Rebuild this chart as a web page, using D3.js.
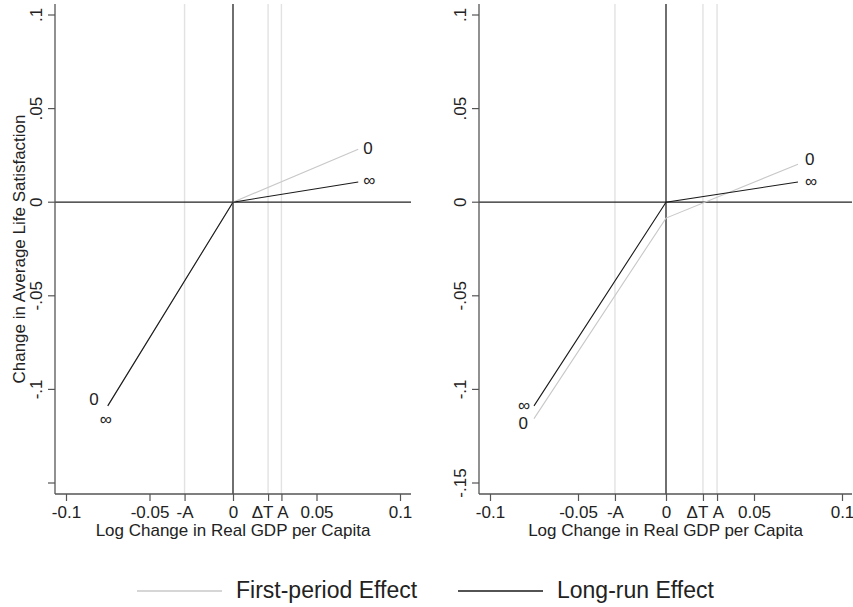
<!DOCTYPE html>
<html>
<head>
<meta charset="utf-8">
<script src="https://cdn.jsdelivr.net/npm/d3@7"></script>
<style>
  body { margin: 0; background: #fff; }
  text { font-family: "Liberation Sans", Arial, sans-serif; fill: #222; }
</style>
</head>
<body>
<script>
// values
const A = 0.029;
const dT = 0.021;
const xPoints = [-0.075, 0, 0.075];
const seriesNames = ["First-period Effect", "Long-run Effect"];
const endLabels = ["0", "\u221e"];

const leftFirst = [-0.1088, 0, 0.0283];
const leftLong = [-0.1088, 0, 0.0108];
const rightFirst = [-0.1156, -0.0085, 0.0203];
const rightLong = [-0.1088, 0, 0.0108];

const xTickVals = [-0.1, -0.05, -A, 0, dT, A, 0.05, 0.1];
const xTickText = ["-0.1", "-0.05", "-A", "0", "\u0394T", "A", "0.05", "0.1"];
const yTickVals = [0.1, 0.05, 0, -0.05, -0.1, -0.15];
const yTickTextLeft = [".1", ".05", "0", "-.05", "-.1", ""];
const yTickTextRight = [".1", ".05", "0", "-.05", "-.1", "-.15"];
const refLines = [-A, dT, A];

const colors = ["#c8c8c8", "#1a1a1a"];
const W = 853, H = 607;
const yTop = 4, yBot = 494;
// small nudges so the crowded labels near dT and A don't collide
const xTickNudge = [0, 0, 0, 0, -6, 1, 0, 0];

const svg = d3.select("body").append("svg")
    .attr("width", W).attr("height", H);

const y = d3.scaleLinear().domain([-0.15, 0.1]).range([483, 15]);

function panel(opt) {
    const x = d3.scaleLinear().domain([-0.1, 0.1]).range(opt.xr);
    const g = svg.append("g");

    // light reference lines at -A, dT, A
    g.selectAll("line.ref").data(refLines).join("line")
        .attr("x1", d => x(d)).attr("x2", d => x(d))
        .attr("y1", yTop).attr("y2", yBot)
        .attr("stroke", "#e2e2e2").attr("stroke-width", 1.4);

    // zero lines
    g.append("line")
        .attr("x1", x(0)).attr("x2", x(0)).attr("y1", yTop).attr("y2", yBot)
        .attr("stroke", "#222").attr("stroke-width", 1.3);
    g.append("line")
        .attr("x1", opt.x0).attr("x2", opt.x1).attr("y1", y(0)).attr("y2", y(0))
        .attr("stroke", "#222").attr("stroke-width", 1.3);

    // x axis
    const xa = g.append("g")
        .attr("transform", `translate(0,${yBot})`)
        .call(d3.axisBottom(x).tickValues(xTickVals)
            .tickFormat((d, i) => xTickText[i])
            .tickSize(7).tickSizeOuter(0).tickPadding(5));
    xa.select(".domain").remove();
    xa.selectAll("line").attr("stroke", "#555").attr("stroke-width", 1.2);
    xa.selectAll("text").attr("font-size", 17).attr("fill", "#222")
        .attr("font-family", "Liberation Sans, Arial, sans-serif")
        .attr("dx", (d, i) => xTickNudge[i]);
    g.append("line")
        .attr("x1", opt.x0).attr("x2", opt.x1).attr("y1", yBot).attr("y2", yBot)
        .attr("stroke", "#555").attr("stroke-width", 1.3);

    // y axis
    g.append("line")
        .attr("x1", opt.x0).attr("x2", opt.x0).attr("y1", yTop).attr("y2", yBot)
        .attr("stroke", "#555").attr("stroke-width", 1.3);
    g.selectAll("line.yt").data(yTickVals).join("line")
        .attr("x1", opt.x0 - 7).attr("x2", opt.x0)
        .attr("y1", d => y(d)).attr("y2", d => y(d))
        .attr("stroke", "#555").attr("stroke-width", 1.2);
    g.selectAll("text.yt").data(yTickVals).join("text")
        .attr("x", opt.x0 - 13).attr("y", d => y(d))
        .attr("transform", d => `rotate(-90,${opt.x0 - 13},${y(d)})`)
        .attr("text-anchor", "middle").attr("font-size", 17)
        .text((d, i) => opt.yText[i]);

    // x title
    g.append("text")
        .attr("x", (opt.x0 + opt.x1) / 2).attr("y", 536)
        .attr("text-anchor", "middle").attr("font-size", 17)
        .text("Log Change in Real GDP per Capita");

    // effect lines
    const line = d3.line().x((d, i) => x(xPoints[i])).y(d => y(d));
    opt.series.forEach((s, k) => {
        g.append("path").datum(s)
            .attr("d", line)
            .attr("fill", "none")
            .attr("stroke", colors[k]).attr("stroke-width", 1.1);

        const n = s.length - 1;
        const r = opt.rightOff[k], l = opt.leftOff[k];
        g.append("text")
            .attr("x", x(xPoints[n]) + r[0]).attr("y", y(s[n]) + r[1])
            .attr("dominant-baseline", "central")
            .attr("font-size", 17).text(endLabels[k]);
        g.append("text")
            .attr("x", x(xPoints[0]) + l[0]).attr("y", y(s[0]) + l[1])
            .attr("text-anchor", "end")
            .attr("dominant-baseline", "central")
            .attr("font-size", 17).text(endLabels[k]);
    });
}

panel({
    xr: [66, 400], x0: 55, x1: 411,
    yText: yTickTextLeft,
    series: [leftFirst, leftLong],
    rightOff: [[5, -1], [5, -1]],
    leftOff: [[-9, -6], [4, 14]]
});
panel({
    xr: [490, 842], x0: 479, x1: 852,
    yText: yTickTextRight,
    series: [rightFirst, rightLong],
    rightOff: [[7, -5], [7, 0]],
    leftOff: [[-6, 5], [-4, 0]]
});

// y title (left panel only)
svg.append("text")
    .attr("transform", "translate(25,249) rotate(-90)")
    .attr("text-anchor", "middle").attr("font-size", 17)
    .text("Change in Average Life Satisfaction");

// legend
const legX = [137, 458];
const leg = svg.append("g");
seriesNames.forEach((name, k) => {
    leg.append("line")
        .attr("x1", legX[k]).attr("x2", legX[k] + 85)
        .attr("y1", 591).attr("y2", 591)
        .attr("stroke", colors[k]).attr("stroke-width", 1.3);
    leg.append("text")
        .attr("x", legX[k] + 99).attr("y", 598)
        .attr("font-size", 23).text(name);
});
</script>
</body>
</html>
